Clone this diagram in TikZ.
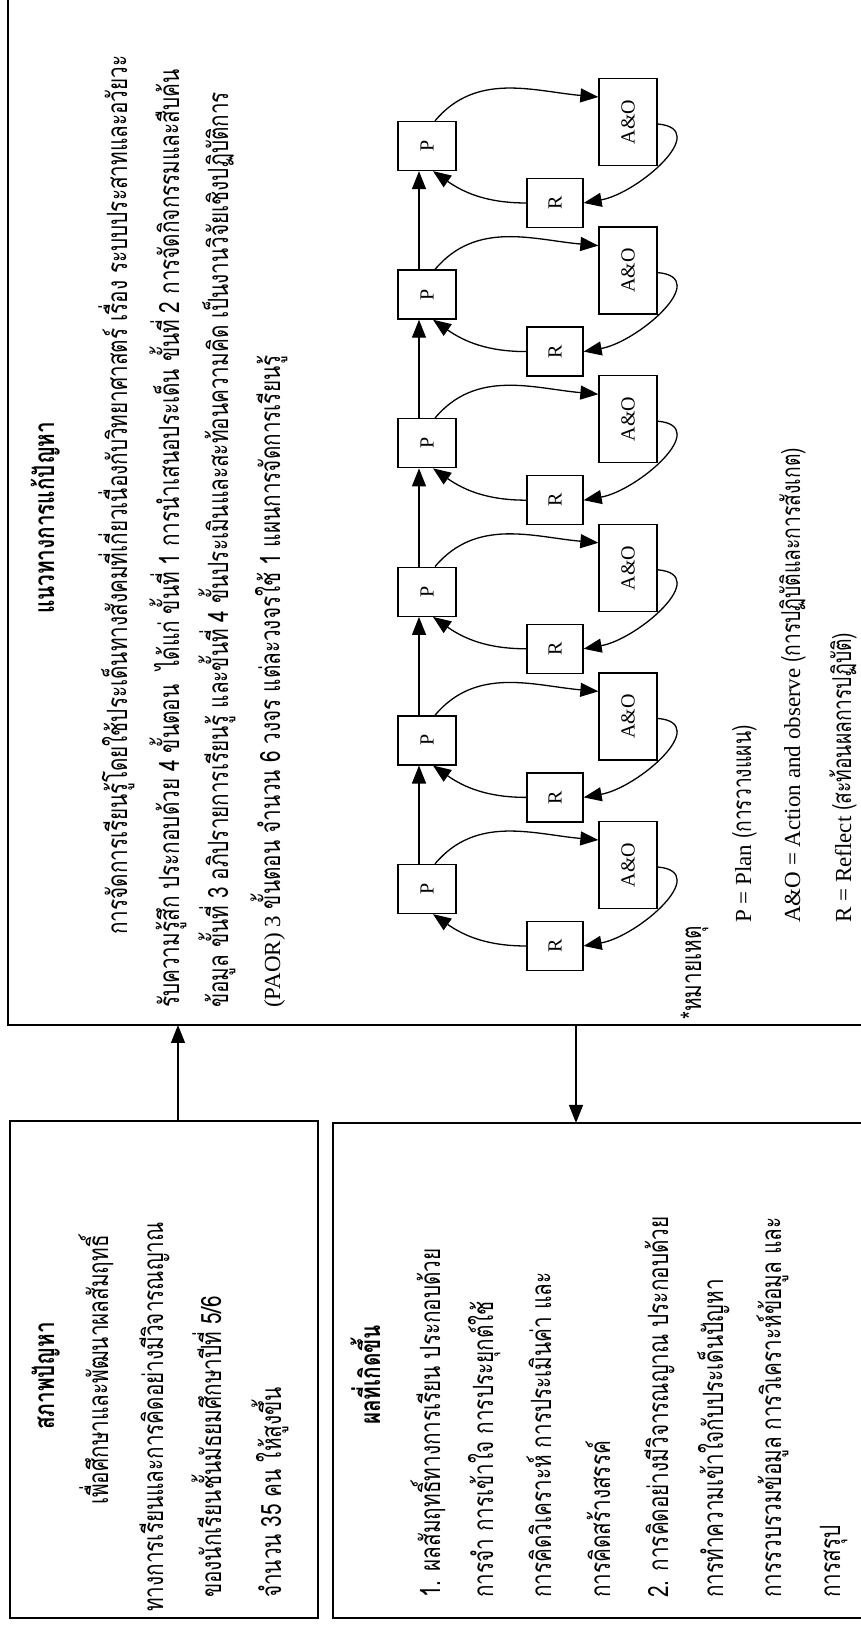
\documentclass[tikz,border=0pt]{standalone}
\usepackage{fontspec}
\setmainfont{Liberation Serif}
\newfontfamily\thaifont[Script=Thai,FakeStretch=0.74]{Loma}
\usetikzlibrary{arrows.meta,calc}

\newcommand\thsize{\fontsize{28}{30}\thaifont}
\newcommand\lasize{\fontsize{23}{26}\rmfamily}
\newcommand\thtxt[1]{{\fontsize{26}{28}\thaifont #1}}

\tikzset{
  frame/.style={draw, line width=1.2pt, inner sep=0pt, outer sep=0pt},
  stage/.style={draw, line width=1.3pt, inner sep=0pt, font=\fontsize{20}{22}\rmfamily},
  arr/.style={-{Triangle[length=18pt,width=14pt]}, line width=1.3pt},
  line/.style={anchor=base west, inner sep=0pt, font=\thsize},
  legend/.style={anchor=base west, inner sep=0pt, font=\lasize},
  head/.style={anchor=base, inner sep=0pt, font=\thsize\bfseries}
}

\begin{document}
\begin{tikzpicture}[x=1pt, y=1pt, rotate=90, transform shape]
\useasboundingbox (0,0) rectangle (1626,-861);
\clip (0,0) rectangle (1626,-861);

% the three boxes
\node[frame, minimum width=497, minimum height=308] (prob) at (256.5,-164) {};
\node[frame, minimum width=495, minimum height=580] (res) at (255.5,-623) {};
\node[frame, minimum width=1120, minimum height=900] (sol) at (1161,-458) {};

\draw[arr] ($(prob.east)+(0,-14)$) -- ($(sol.west)+(0,280)$);
\draw[arr] ($(sol.west)+(0,-118)$) -- ($(res.east)+(0,47)$);

% problem
\node[head] (probT) at (250,-54) {สภาพปัญหา};
\node[line] (prob1) at (121,-108) {เพื่อศึกษาและพัฒนาผลสัมฤทธิ์};
\node[line] (prob2) at (14,-163) {ทางการเรียนและการคิดอย่างมีวิจารณญาณ};
\node[line] (prob3) at (28,-221) {ของนักเรียนชั้นมัธยมศึกษาปีที่ 5/6};
\node[line] (prob4) at (28,-281) {จำนวน 35 คน ให้สูงขึ้น};

% results
\node[head] (resT) at (251,-380) {ผลที่เกิดขึ้น};
\node[line] (res1) at (28,-440) {1. ผลสัมฤทธิ์ทางการเรียน ประกอบด้วย};
\node[line] (res2) at (28,-493) {การจำ การเข้าใจ การประยุกต์ใช้};
\node[line] (res3) at (28,-551) {การคิดวิเคราะห์ การประเมินค่า และ};
\node[line] (res4) at (28,-610) {การคิดสร้างสรรค์};
\node[line] (res5) at (28,-668) {2. การคิดอย่างมีวิจารณญาณ ประกอบด้วย};
\node[line] (res6) at (28,-723) {การทำความเข้าใจกับประเด็นปัญหา};
\node[line] (res7) at (28,-781) {การรวบรวมข้อมูล การวิเคราะห์ข้อมูล และ};
\node[line] (res8) at (28,-840) {การสรุป};

% approach
\node[head] (solT) at (1108,-54) {แนวทางการแก้ปัญหา};
\node[line] (sol1) at (691,-127) {การจัดการเรียนรู้โดยใช้ประเด็นทางสังคมที่เกี่ยวเนื่องกับวิทยาศาสตร์ เรื่อง ระบบประสาทและอวัยวะ};
\node[line] (sol2) at (618,-179) {รับความรู้สึก ประกอบด้วย 4 ขั้นตอน\ \ ได้แก่ ขั้นที่ 1 การนำเสนอประเด็น ขั้นที่ 2 การจัดกิจกรรมและสืบค้น};
\node[line] (sol3) at (618,-228) {ข้อมูล ขั้นที่ 3 อภิปรายการเรียนรู้ และขั้นที่ 4 ขั้นประเมินและสะท้อนความคิด เป็นงานวิจัยเชิงปฏิบัติการ};
\node[line] (sol4) at (618,-280) {{\lasize (PAOR) 3} ขั้นตอน จำนวน 6 วงจร แต่ละวงจรใช้ 1 แผนการจัดการเรียนรู้};

% PAOR cycles
\foreach \i in {1,...,6} {
  \pgfmathsetmacro\pu{737+148.6*(\i-1)}
  \node[stage, minimum width=49, minimum height=58] (P\i) at (\pu,-427) {P};
  \node[stage, minimum width=87, minimum height=58] (A\i) at (\pu+24,-628) {A\&O};
  \node[stage, minimum width=49, minimum height=56] (R\i) at (\pu-57,-555) {R};
}
\foreach \i in {1,...,6} {
  \draw[arr] ($(P\i.east)+(0,-8)$) to[out=-40, in=85] ($(A\i.north)+(25,0)$);
  \draw[arr] ($(A\i.south)+(-2,0)$) to[out=-95, in=-80, looseness=1.3] (R\i.south);
  \draw[arr] (R\i.north) to[out=90, in=-125] ($(P\i.west)+(0,-6)$);
}
\foreach \i [count=\j from 2] in {1,...,5}
  \draw[arr] ($(P\i.east)+(0,8)$) -- ($(P\j.west)+(0,8)$);

% legend
\node[line] (note) at (606,-701) {*หมายเหตุ};
\node[legend] (leg1) at (703,-751) {P = Plan \thtxt{(การวางแผน)}};
\node[legend] (leg2) at (703,-800) {A\&O = Action and observe \thtxt{(การปฏิบัติและการสังเกต)}};
\node[legend] (leg3) at (703,-851) {R = Reflect \thtxt{(สะท้อนผลการปฏิบัติ)}};
\end{tikzpicture}
\end{document}
